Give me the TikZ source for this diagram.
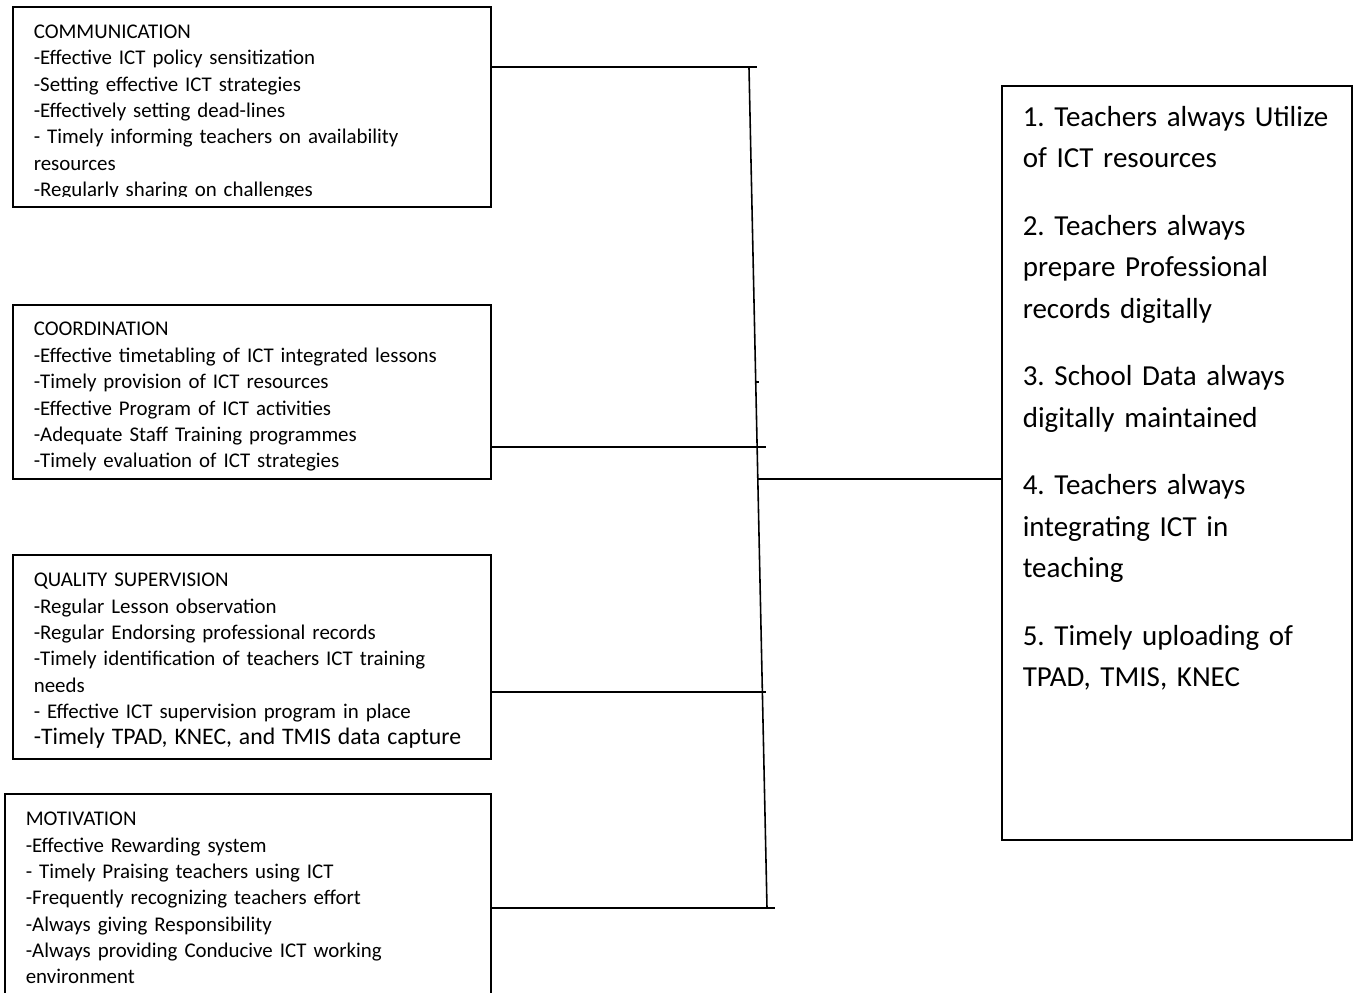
\documentclass[tikz,border=0pt]{standalone}
\usepackage{fontspec}
\setmainfont{Carlito}
\frenchspacing
\begin{document}
\begin{tikzpicture}[x=0.02cm, y=-0.02cm, line width=0.9pt,
    box/.style={draw, rectangle, inner sep=0pt},
    small/.style={anchor=base west, inner sep=0pt, align=left, text width=9cm, font=\fontsize{11.9}{15}\selectfont},
    big/.style={anchor=base west, inner sep=0pt, align=left, text width=6.4cm, font=\fontsize{16.5}{23.5}\selectfont}]
    \clip (0,0) rectangle (1356,993);

    \node[box, minimum width=9.56cm, minimum height=4cm] (comm) at (252,107) {};
    \node[box, minimum width=9.56cm, minimum height=3.48cm] (coord) at (252,392) {};
    \node[box, minimum width=9.56cm, minimum height=4.08cm] (qual) at (252,657) {};
    \node[box, minimum width=9.72cm, minimum height=4.6cm] (motiv) at (248,909) {};
    \node[box, minimum width=7cm, minimum height=15.08cm] (result) at (1177,463) {};

    \begin{scope}
        \clip (13,7) rectangle (491,197);
        \node[small] (commtext) at (33,38.5) {COMMUNICATION\\-Effective ICT policy sensitization\\-Setting effective ICT strategies\\-Effectively setting dead-lines\\- Timely informing teachers on availability\\resources\\-Regularly sharing on challenges};
    \end{scope}
    \node[small] (coordtext) at (33,336) {COORDINATION\\-Effective timetabling of ICT integrated lessons\\-Timely provision of ICT resources\\-Effective Program of ICT activities\\-Adequate Staff Training programmes\\-Timely evaluation of ICT strategies};
    \node[small] (qualtext) at (33,586.7) {QUALITY SUPERVISION\\-Regular Lesson observation\\-Regular Endorsing professional records\\-Timely identification of teachers ICT training\\needs\\- Effective ICT supervision program in place\\{\fontsize{13.5}{15}\selectfont -Timely TPAD, KNEC, and TMIS data capture}};
    \node[small] (motivtext) at (25,825.7) {MOTIVATION\\-Effective Rewarding system\\- Timely Praising teachers using ICT\\-Frequently recognizing teachers effort\\-Always giving Responsibility\\-Always providing Conducive ICT working\\environment};
    \node[big] (resulttext) at (1022,126.5) {1. Teachers always Utilize\\of ICT resources\\[0.53cm]2. Teachers always\\prepare Professional\\records digitally\\[0.53cm]3. School Data always\\digitally maintained\\[0.53cm]4. Teachers always\\integrating ICT in\\teaching\\[0.53cm]5. Timely uploading of\\TPAD, TMIS, KNEC};

    \coordinate (bustop) at (749,68);
    \coordinate (busbot) at (767,908);
    \coordinate (hub) at (758,479);
    \draw (bustop) -- (busbot);
    \foreach \b/\x/\y in {comm/757/67, coord/766/447, qual/766/692, motiv/775/908}{
        \coordinate (\b-end) at (\x,\y);
        \draw (\b.east |- \b-end) -- (\b-end);
    }
    \draw (hub) -- (result.west |- hub);
    \draw (756,382) -- (759,382);

\end{tikzpicture}
\end{document}
